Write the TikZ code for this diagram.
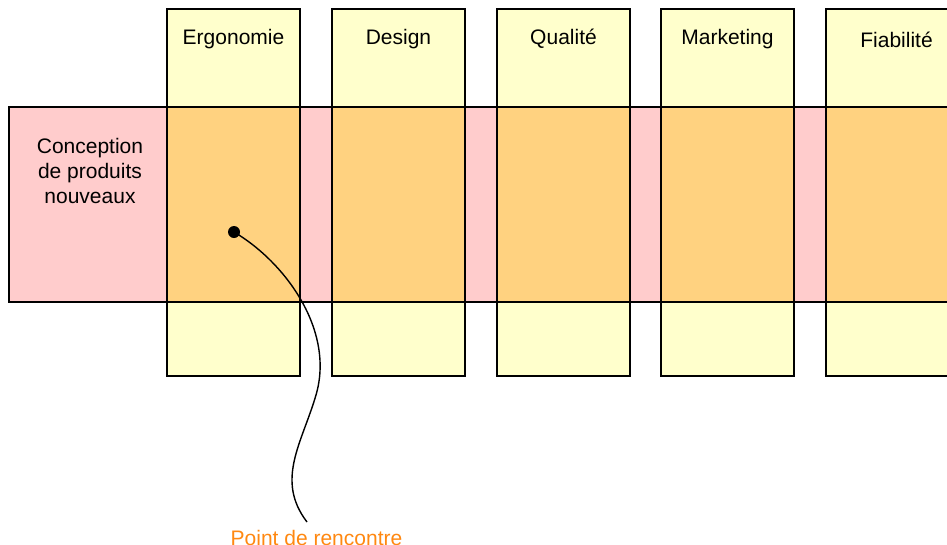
\documentclass[tikz,border=0pt]{standalone}
\usepackage{fontspec}
\setmainfont{Liberation Sans}
\definecolor{colyellow}{RGB}{255,255,204}
\definecolor{bandpink}{RGB}{255,204,204}
\definecolor{overlap}{RGB}{255,210,128}
\definecolor{labelorange}{RGB}{255,136,17}
\begin{document}
\begin{tikzpicture}[x=1pt,y=-1pt,
  every node/.style={font=\fontsize{21}{25}\selectfont},
  border/.style={draw=black,line width=1.4pt},
  title/.style={anchor=base,inner sep=0pt}]
\useasboundingbox (0,0) rectangle (947,544);
% band
\fill[bandpink] (9,107) rectangle (960,302);
% columns
\foreach \x in {167,332,497,661,826}{
  \fill[colyellow] (\x,9) rectangle ({\x+133},376);
  \fill[overlap] (\x,107) rectangle ({\x+133},302);
}
% borders
\draw[border] (960,107) -- (9,107) -- (9,302) -- (960,302);
\foreach \x in {167,332,497,661,826}{
  \draw[border] (\x,9) rectangle ({\x+133},376);
}
% titles
\node[title] (ergo) at (233.5,44) {Ergonomie};
\node[title] (design) at (398.5,44) {Design};
\node[title] (qual) at (563.5,44) {Qualité};
\node[title] (mark) at (727.5,44) {Marketing};
\node[title] (fiab) at (896.5,47) {Fiabilité};
\node[title,align=center] (concept) at (90,203) {Conception\\de produits\\nouveaux};
% meeting point
\node[circle,fill=black,inner sep=0pt,minimum size=12pt] (dot) at (234,232) {};
\coordinate (tail) at (307,522);
\node[title,text=labelorange] (pdr) at (316.5,545) {Point de rencontre};
\draw[line width=1.4pt] (dot.center) .. controls (285,262) and (335,330) .. (316,395)
  .. controls (302,443) and (275,480) .. (tail);
\end{tikzpicture}
\end{document}
